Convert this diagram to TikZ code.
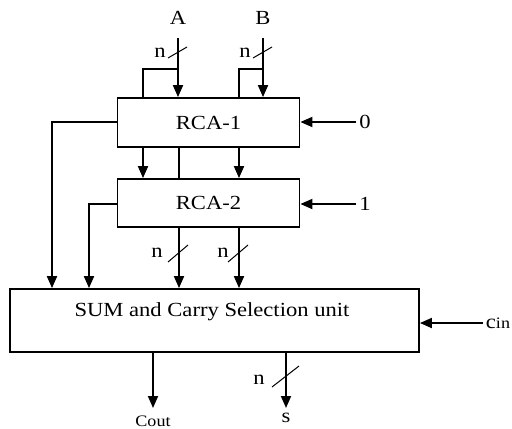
\documentclass[tikz,border=0pt]{standalone}
\usepackage{fontspec}
\setmainfont{Liberation Serif}[FakeStretch=1.13]
\usetikzlibrary{arrows.meta, positioning, calc}

\begin{document}
\begin{tikzpicture}[x=0.5pt, y=-0.5pt, line width=0.9pt,
    blk/.style={draw, rectangle, inner sep=0pt},
    bus/.style={-{Triangle[length=6pt,width=5pt]}},
    slash/.style={line width=0.5pt},
    lbl/.style={inner sep=1pt, font=\normalsize}]
    \useasboundingbox (0,0) rectangle (512,428);

    % The two ripple carry adders
    \node[blk, minimum width=91pt, minimum height=24.5pt] (rca1) at (208.5,122.5) {RCA-1};
    \node[blk, minimum width=91pt, minimum height=24pt] (rca2) at (208.5,203) {RCA-2};

    % Selection unit (text sits high in the box)
    \node[blk, minimum width=204.5pt, minimum height=31.5pt] (sum) at (214.5,320.5) {};
    \node[lbl] (sumtxt) at (212,312) {SUM and Carry Selection unit};

    % Operand inputs
    \node[lbl] (A) at (178,18) {A};
    \node[lbl] (B) at (263,18) {B};
    \coordinate (a0) at (178,38);
    \coordinate (b0) at (263,38);
    \draw[bus] (a0) -- (a0 |- rca1.north);
    \draw[bus] (b0) -- (b0 |- rca1.north);
    \draw (178,69) -- (143,69) -- (143,0 |- rca1.north);
    \draw (263,69) -- (239,69) -- (239,0 |- rca1.north);
    \draw[slash] (168,58) -- (187,47);
    \draw[slash] (253,58) -- (272,47);
    \node[lbl] (na) at (160,53) {n};
    \node[lbl] (nb) at (245,53) {n};

    % Carry inputs
    \node[lbl] (zero) at (365,122) {0};
    \node[lbl] (one) at (365,204) {1};
    \node[lbl] (cin) at (498,323) {c{\footnotesize in}};
    \draw[bus] (zero.west) -- (rca1.east |- zero);
    \draw[bus] (one.west) -- (rca2.east |- one);
    \draw[bus] (cin.west) -- (sum.east |- cin);

    % RCA-1 to RCA-2
    \draw[bus] (143,0 |- rca1.south) -- (143,0 |- rca2.north);
    \draw[bus] (239,0 |- rca1.south) -- (239,0 |- rca2.north);
    \draw (179,0 |- rca1.south) -- (179,0 |- rca2.north);

    % Carries down to the selection unit
    \draw[bus] (rca1.west |- 0,122) -- (52,122) -- (52,0 |- sum.north);
    \draw[bus] (rca2.west |- 0,204) -- (89,204) -- (89,0 |- sum.north);

    % Sums down to the selection unit
    \foreach \x/\nx in {179/157, 239/223} {
        \draw[bus] (\x,0 |- rca2.south) -- (\x,0 |- sum.north);
        \draw[slash] (\x-11,262) -- (\x+9,245);
        \node[lbl] at (\nx,253) {n};
    }

    % Outputs
    \coordinate (co) at (153,408);
    \coordinate (so) at (286,408);
    \draw[bus] (co |- sum.south) -- (co);
    \draw[bus] (so |- sum.south) -- (so);
    \draw[slash] (272,387) -- (299,366);
    \node[lbl] (ns) at (259,380) {n};
    \node[inner sep=1pt, font=\footnotesize] (cout) at (153,421) {Cout};
    \node[lbl] (s) at (286,418) {s};
\end{tikzpicture}
\end{document}
